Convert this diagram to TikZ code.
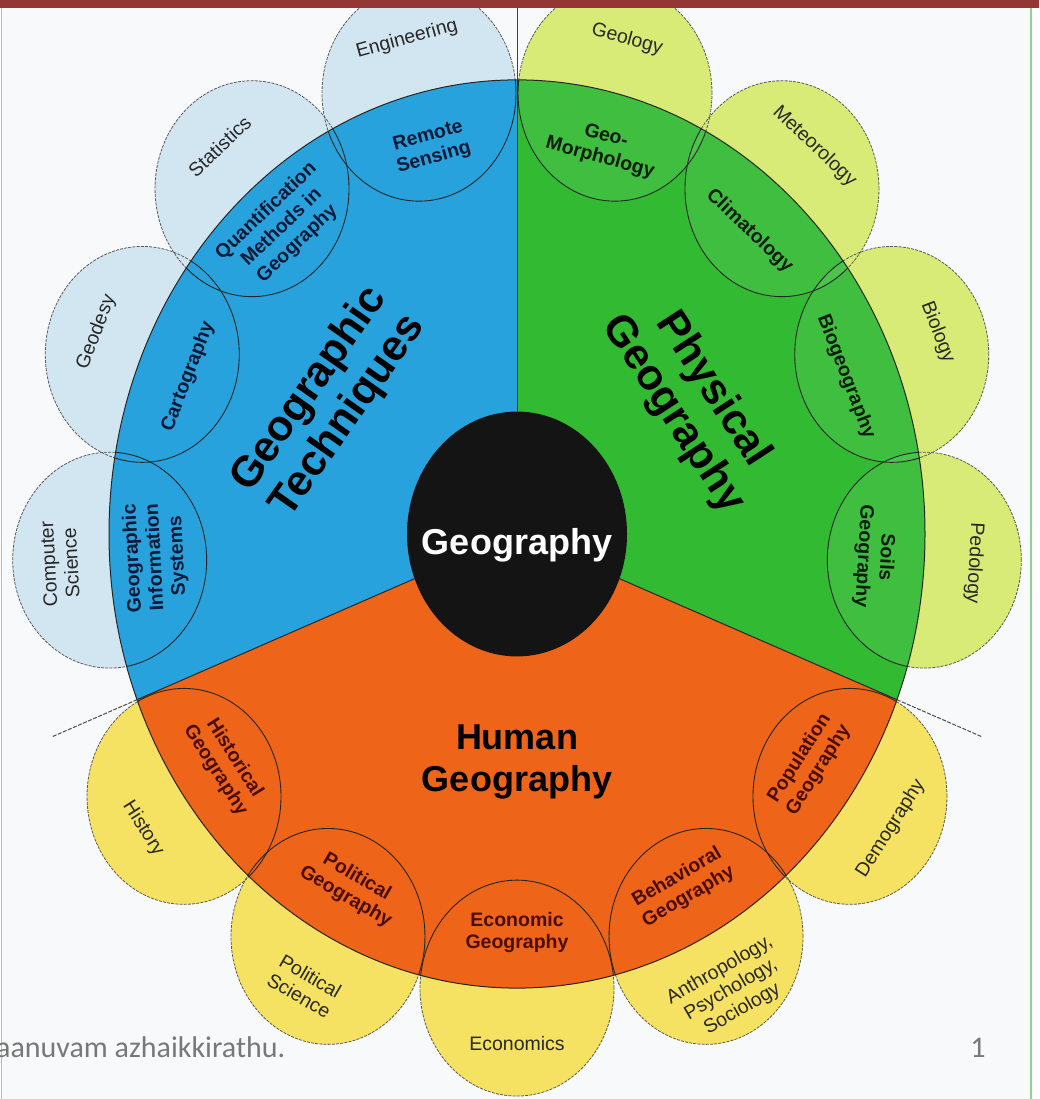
\documentclass[tikz,border=0pt]{standalone}
\usepackage{fontspec}
\setmainfont{Liberation Sans}
\newfontfamily\footfont{Carlito}
\definecolor{barred}{RGB}{148,54,52}
\definecolor{framegreen}{RGB}{140,215,140}
\definecolor{bgcol}{RGB}{248,249,250}
\definecolor{bluesec}{RGB}{40,162,220}
\definecolor{greensec}{RGB}{50,186,50}
\definecolor{orangesec}{RGB}{238,100,24}
\definecolor{bluepet}{RGB}{210,230,241}
\definecolor{greenpet}{RGB}{216,235,118}
\definecolor{orangepet}{RGB}{246,226,98}
\definecolor{petgray}{RGB}{90,90,90}
\definecolor{bluetxt}{RGB}{14,26,56}
\definecolor{greentxt}{RGB}{12,30,12}
\definecolor{orangetxt}{RGB}{74,14,6}
\definecolor{outtxt}{RGB}{40,40,40}
\definecolor{foottxt}{RGB}{120,120,120}
\begin{document}
\begin{tikzpicture}[x=1pt,y=1pt,
  inlab/.style={font=\bfseries\fontsize{19.5}{22.5}\selectfont, align=center, inner sep=0pt},
  outlab/.style={font=\fontsize{19.5}{22.5}\selectfont, align=center, inner sep=0pt, text=outtxt},
  biglab/.style={font=\bfseries\fontsize{43}{47}\selectfont, align=center, inner sep=0pt, text=black},
  petalline/.style={draw=petgray, line width=0.8pt, dash pattern=on 3pt off 1.2pt},
  innerline/.style={draw=black!85, line width=0.9pt},
  diskline/.style={draw=black!85, line width=1pt},
  extline/.style={draw=black!70, line width=1pt, dash pattern=on 4pt off 1.5pt},
  topline/.style={draw=black!75, line width=0.9pt}]
\useasboundingbox (0,0) rectangle (1039,1099);
\fill[white] (0,0) rectangle (1039,1099);
\fill[bgcol] (3,0) rectangle (1030,1091);
\draw[framegreen, line width=1.5pt] (1.5,0) -- (1.5,1091);
\draw[framegreen, line width=1.5pt] (1031,0) -- (1031,1091);
\begin{scope}[shift={(517,565)}, yscale=1.113]
  % outer petals
  \foreach \a/\col in {103.9/bluepet,130.5/bluepet,156.7/bluepet,183.3/bluepet,
      76.1/greenpet,49.5/greenpet,23.3/greenpet,-3.3/greenpet,
      -35.3/orangepet,-62.4/orangepet,-90/orangepet,-117.6/orangepet,-144.7/orangepet}
    \fill[\col] (\a:408) circle[radius=97];
  \foreach \a in {103.9,130.5,156.7,183.3,76.1,49.5,23.3,-3.3,-35.3,-62.4,-90,-117.6,-144.7}
    \draw[petalline] (\a:408) circle[radius=97];
  % sectors
  \fill[bluesec] (0,0) -- (90:408) arc[start angle=90,end angle=201.4,radius=408] -- cycle;
  \fill[orangesec] (0,0) -- (201.4:408) arc[start angle=201.4,end angle=338.6,radius=408] -- cycle;
  \fill[greensec] (0,0) -- (338.6:408) arc[start angle=338.6,end angle=450,radius=408] -- cycle;
  % inner petal parts
  \begin{scope}
    \clip (0,0) circle[radius=408];
    \foreach \a in {76.1,49.5,23.3,-3.3}
      \fill[white, opacity=0.07] (\a:408) circle[radius=97];
    \foreach \a in {103.9,130.5,156.7,183.3,76.1,49.5,23.3,-3.3,-35.3,-62.4,-90,-117.6,-144.7}
      \draw[innerline] (\a:408) circle[radius=97];
  \end{scope}
  \draw[diskline] (0,0) circle[radius=408];
  \draw[diskline] (0,0) -- (90:408);
  \draw[diskline] (0,0) -- (201.4:408);
  \draw[diskline] (0,0) -- (338.6:408);
  \draw[topline] (90:408) -- (90:480);
  \draw[extline] (201.4:408) -- (201.4:500);
  \draw[extline] (338.6:408) -- (338.6:500);
  % centre
  \fill[black!92] (0,0) circle[radius=110];
  \node[font=\bfseries\fontsize{36}{40}\selectfont, text=white] (geo) at (0,-10) {Geography};
  % sector labels
  \node[biglab, rotate=55] (tech) at (148:222) {Geographic\\Techniques};
  \node[biglab, rotate=-57] (phys) at (34:212) {Physical\\Geography};
  \node[font=\bfseries\fontsize{36}{42}\selectfont, align=center, text=black] (human) at (0,-205) {Human\\Geography};
  % blue inner / outer
  \node[inlab, text=bluetxt, rotate=15.4] (rs) at (103.9:358) {Remote\\Sensing};
  \node[inlab, text=bluetxt, rotate=43.6] (qm) at (130.5:362) {Quantification\\Methods in\\Geography};
  \node[inlab, text=bluetxt, rotate=68.9] (ca) at (156.7:358) {Cartography};
  \node[inlab, text=bluetxt, rotate=93] (gis) at (183.3:362) {Geographic\\Information\\Systems};
  \node[outlab, rotate=15.4] (eng) at (103.9:458) {Engineering};
  \node[outlab, rotate=43.6] (stat) at (130.5:458) {Statistics};
  \node[outlab, rotate=68.9] (gdsy) at (156.7:458) {Geodesy};
  \node[outlab, rotate=93] (cs) at (183.3:458) {Computer\\Science};
  % green inner / outer
  \node[inlab, text=greentxt, rotate=-15.4] (gm) at (76.1:358) {Geo-\\Morphology};
  \node[inlab, text=greentxt, rotate=-43.6] (cl) at (49.5:358) {Climatology};
  \node[inlab, text=greentxt, rotate=-68.9] (bg) at (23.3:358) {Biogeography};
  \node[inlab, text=greentxt, rotate=-93] (sg) at (-3.3:358) {Soils\\Geography};
  \node[outlab, rotate=-15.4] (gl) at (76.1:458) {Geology};
  \node[outlab, rotate=-43.6] (met) at (49.5:458) {Meteorology};
  \node[outlab, rotate=-68.9] (bio) at (23.3:458) {Biology};
  \node[outlab, rotate=-93] (ped) at (-3.3:458) {Pedology};
  % orange inner / outer
  \node[inlab, text=orangetxt, rotate=57.6] (pg) at (-35.3:358) {Population\\Geography};
  \node[inlab, text=orangetxt, rotate=30.2] (bhg) at (-62.4:358) {Behavioral\\Geography};
  \node[inlab, text=orangetxt] (eg) at (-90:358) {Economic\\Geography};
  \node[inlab, text=orangetxt, rotate=-30.2] (plg) at (-117.6:358) {Political\\Geography};
  \node[inlab, text=orangetxt, rotate=-57.6] (hg) at (-144.7:358) {Historical\\Geography};
  \node[outlab, rotate=57.6] (dem) at (-35.3:458) {Demography};
  \node[outlab, rotate=30.2] (aps) at (-62.4:462) {Anthropology,\\Psychology,\\Sociology};
  \node[outlab] (eco) at (-90:458) {Economics};
  \node[outlab, rotate=-30.2] (ps) at (-117.6:458) {Political\\Science};
  \node[outlab, rotate=-57.6] (his) at (-144.7:458) {History};
\end{scope}
\fill[barred] (0,1091) rectangle (1039,1099);
\node[font=\footfont\fontsize{30}{34}\selectfont, text=foottxt, anchor=base west, inner sep=0pt] (foot) at (-4,41) {aanuvam azhaikkirathu.};
\node[font=\footfont\fontsize{30}{34}\selectfont, text=foottxt, anchor=base, inner sep=0pt] (pno) at (978,41) {1};
\end{tikzpicture}
\end{document}
